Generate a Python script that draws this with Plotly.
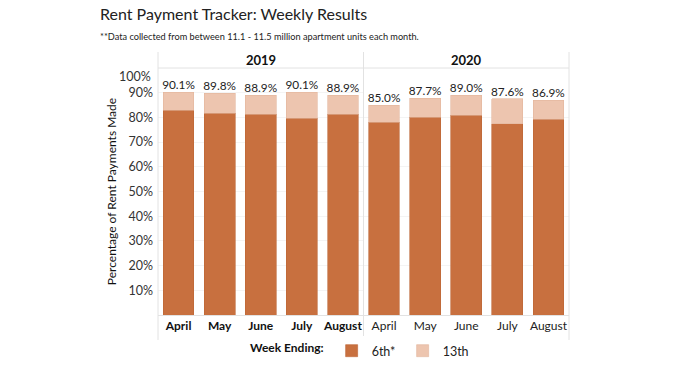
import plotly.graph_objects as go

months = ["April", "May", "June", "July", "August"]
years = ["2019", "2020"]
week6_2019 = [82.9, 81.7, 81.3, 79.7, 81.2]
total_2019 = [90.1, 89.8, 88.9, 90.1, 88.9]
week6_2020 = [78.1, 80.1, 80.8, 77.4, 79.3]
total_2020 = [85.0, 87.7, 89.0, 87.6, 86.9]
ytick_vals = [10, 20, 30, 40, 50, 60, 70, 80, 90]
ytick_text = ["10%", "20%", "30%", "40%", "50%", "60%", "70%", "80%", "90%"]

DARK = "#C8703F"
LIGHT = "#EDC5AF"
FONT = "Lato"
GRID = "#E2E2E2"

fig = go.Figure()

for i, (w6, tot) in enumerate([(week6_2019, total_2019), (week6_2020, total_2020)]):
    xa = "x" if i == 0 else "x2"
    ya = "y" if i == 0 else "y2"
    w13 = [round(t - w, 2) for t, w in zip(tot, w6)]
    fig.add_trace(go.Bar(x=months, y=w6, name="6th*", marker=dict(color=DARK, line=dict(color="#BD6535", width=0.6)),
                         xaxis=xa, yaxis=ya, showlegend=(i == 0), legendgroup="6"))
    fig.add_trace(go.Bar(x=months, y=w13, name="13th", marker=dict(color=LIGHT, line=dict(color="#E2B59C", width=0.6)),
                         xaxis=xa, yaxis=ya, showlegend=(i == 0), legendgroup="13"))
    fig.add_trace(go.Scatter(x=months, y=tot, mode="text", text=[f"{t:.1f}%" for t in tot],
                             textposition="top center", textfont=dict(family=FONT, size=11.8, color="#222"),
                             xaxis=xa, yaxis=ya, showlegend=False, hoverinfo="skip", cliponaxis=False))

fig.update_layout(
    width=696, height=365,
    margin=dict(l=158, r=127, t=68, b=50, autoexpand=False),
    barmode="stack", bargap=0.25,
    plot_bgcolor="white", paper_bgcolor="white",
    font=dict(family=FONT, color="#222"),
    xaxis=dict(domain=[0, 0.5], showgrid=False, tickfont=dict(size=12, weight="bold", color="#111"),
               showline=True, linecolor=GRID, ticks="", automargin=False),
    xaxis2=dict(domain=[0.5, 1], showgrid=False, tickfont=dict(size=12, color="#222"),
                showline=True, linecolor=GRID, ticks="", automargin=False),
    yaxis=dict(range=[0, 100], tickvals=ytick_vals, ticktext=ytick_text, tickfont=dict(size=12.5, color="#333"),
               showgrid=True, gridcolor="#F4F4F4", zeroline=False, ticks="", ticklabelstandoff=4, automargin=False,
               title=dict(text="Percentage of Rent Payments Made", font=dict(size=12, color="#111"), standoff=9)),
    yaxis2=dict(range=[0, 100], anchor="x2", matches="y", showticklabels=False,
                showgrid=True, gridcolor="#F4F4F4", zeroline=False),
    legend=dict(orientation="h", x=0.219, xanchor="left", y=-0.146, yanchor="middle",
                font=dict(size=12.5, color="#222"), itemwidth=30, traceorder="normal",
                entrywidth=26, entrywidthmode="pixels",
                title=dict(text="<b>Week Ending:</b>", font=dict(size=12, color="#111"))),
    showlegend=True,
)

# header and frame lines
top_h = 1.0648
bottom_ext = -0.101
shapes = []
for xp in [0, 0.5, 1]:
    shapes.append(dict(type="line", xref="paper", yref="paper", x0=xp, x1=xp, y0=bottom_ext, y1=top_h,
                       line=dict(color=GRID, width=1)))
shapes.append(dict(type="line", xref="paper", yref="paper", x0=0, x1=1, y0=1, y1=1, line=dict(color=GRID, width=1)))
fig.update_layout(shapes=shapes)

annotations = [
    dict(text="Rent Payment Tracker: Weekly Results", xref="paper", yref="paper", x=-0.146, y=1.222,
         xanchor="left", yanchor="middle", showarrow=False, font=dict(size=16, color="#222", family=FONT)),
    dict(text="**Data collected from between 11.1 - 11.5 million apartment units each month.", xref="paper", yref="paper",
         x=-0.146, y=1.127, xanchor="left", yanchor="middle", showarrow=False, font=dict(size=9.2, color="#222", family=FONT)),
    dict(text="100%", xref="paper", yref="paper", x=-0.012, y=0.967, xanchor="right", yanchor="middle",
         showarrow=False, font=dict(size=12.5, color="#333", family=FONT)),
]
for k, yr in enumerate(years):
    annotations.append(dict(text=f"<b>{yr}</b>", xref="paper", yref="paper", x=0.25 + 0.5 * k, y=1.032,
                            xanchor="center", yanchor="middle", showarrow=False,
                            font=dict(size=13, color="#111", family=FONT)))
fig.update_layout(annotations=annotations)

fig.write_html("out.html", post_script="document.body.style.margin='0';",
               config={"displayModeBar": False})
